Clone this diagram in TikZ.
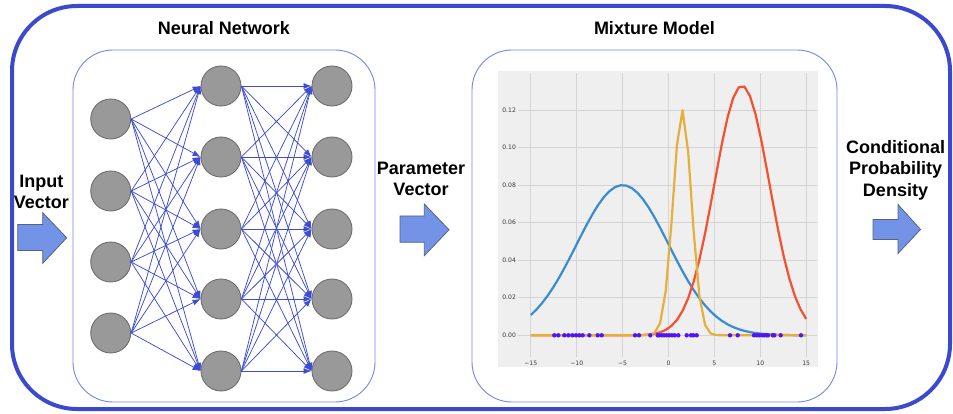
\documentclass[tikz,border=0pt]{standalone}
\usepackage{fontspec}
\setmainfont{Liberation Sans}
\newfontfamily\tickfont{DejaVu Sans}
\usetikzlibrary{arrows.meta}

\definecolor{framecol}{HTML}{3B49CF}
\definecolor{panelcol}{HTML}{7088E8}
\definecolor{edgecol}{HTML}{3D4CD3}
\definecolor{nodefill}{HTML}{999999}
\definecolor{nodeline}{HTML}{6E6E6E}
\definecolor{arrowfill}{HTML}{7393E6}
\definecolor{arrowline}{HTML}{55637F}
\definecolor{plotbg}{HTML}{EFEFEF}
\definecolor{gridcol}{HTML}{D4D4D4}
\definecolor{ticktext}{HTML}{3A3A3A}
\definecolor{cblue}{HTML}{3A8CD2}
\definecolor{cred}{HTML}{F5502F}
\definecolor{cyellow}{HTML}{E6AF3A}
\definecolor{dotcol}{HTML}{5014F5}

\tikzset{
  neuron/.style={circle, draw=nodeline, line width=0.9pt, fill=nodefill,
                 minimum size=40pt, inner sep=0pt},
  link/.style={draw=edgecol, line width=0.75pt, -{Latex[length=8pt,width=6pt]}},
  panel/.style={draw=panelcol, line width=0.9pt, rounded corners=40pt},
  title/.style={font=\bfseries\fontsize{18}{21.5}\selectfont, align=center,
                inner sep=0pt, text=black},
  blockarrow/.style={fill=arrowfill, draw=arrowline, line width=0.8pt, line join=miter},
  curve/.style={line width=2.2pt, line join=round},
  gridline/.style={draw=gridcol, line width=0.9pt},
  ticklbl/.style={font=\tickfont\fontsize{6.1}{7}\selectfont, text=ticktext, inner sep=0pt},
  sample/.style={fill=dotcol},
}

\begin{document}
\begin{tikzpicture}[x=1pt, y=-1pt]
\useasboundingbox (0,0) rectangle (953,414);

% outer frame
\draw[framecol, line width=4pt, rounded corners=65pt] (12,6) rectangle (950,409);

% the two panels
\draw[panel] (73,50) rectangle (375,402);
\draw[panel] (472,50) rectangle (837,402);

\node[title] (nntitle) at (224,28) {Neural Network};
\node[title] (mmtitle) at (654.5,28) {Mixture Model};

% network layers
\foreach \i/\y in {1/119,2/191,3/262,4/333}
  \node[neuron] (in\i) at (110.7,\y) {};
\foreach \i/\y in {1/86,2/157,3/229,4/299,5/371} {
  \node[neuron] (h\i) at (221,\y) {};
  \node[neuron] (o\i) at (332,\y) {};
}
\foreach \a in {1,...,4}
  \foreach \b in {1,...,5}
    \draw[link] (in\a.east) -- (h\b.west);
\foreach \a in {1,...,5}
  \foreach \b in {1,...,5}
    \draw[link] (h\a.east) -- (o\b.west);

% side labels
\node[title] (inlbl) at (41.3,192) {Input\\Vector};
\node[title] (parlbl) at (421,179) {Parameter\\Vector};
\node[title] (cpdlbl) at (895.5,170) {Conditional\\Probability\\Density};

% block arrows
\draw[blockarrow] (17.7,224.5) -- (42.7,224.5) -- (42.7,212.7) -- (66.7,237.8)
  -- (42.7,263.3) -- (42.7,250.5) -- (17.7,250.5) -- cycle;
\draw[blockarrow] (400,216) -- (424.3,216) -- (424.3,204) -- (449,229.8)
  -- (424.3,255.7) -- (424.3,242.3) -- (400,242.3) -- cycle;
\draw[blockarrow] (873,219.5) -- (898,219.5) -- (898,204.5) -- (920.5,229.5)
  -- (898,253.5) -- (898,239.5) -- (873,239.5) -- cycle;

% mixture plot
\fill[plotbg] (498,71) rectangle (818,367);
\begin{scope}[shift={(668.5,335.3)}, x=9.18pt, y=1877pt]
  \foreach \v in {-15,-10,-5,0,5,10,15}
    \draw[gridline] (\v,-0.0116) -- (\v,0.1397);
  \foreach \h in {0,0.02,0.04,0.06,0.08,0.10,0.12}
    \draw[gridline] (-16.4,\h) -- (16.2,\h);
  \foreach \h/\t in {0/0.00,0.02/0.02,0.04/0.04,0.06/0.06,0.08/0.08,0.10/0.10,0.12/0.12}
    \node[ticklbl, anchor=east] (ytick\t) at (-16.6,\h) {\t};
  \foreach \v/\t in {-15/−15,-10/−10,-5/−5,0/0,5/5,10/10,15/15}
    \node[ticklbl] (xtick\v) at (\v,-0.0148) {\t};

  \draw[cblue, curve] plot[domain=-15:15, samples=50]
    (\x, {0.08*exp(max(-((\x+5)*(\x+5))/50,-11))});
  \draw[cred, curve] plot[domain=-15:15, samples=50]
    (\x, {0.133*exp(max(-((\x-8)*(\x-8))/18,-11))});
  \draw[cyellow, curve] plot[domain=-15:15, samples=50]
    (\x, {0.12*exp(max(-((\x-1.5)*(\x-1.5))/2,-11))});
\end{scope}

% observed samples on the axis
\foreach \px in {554.3,558.3,564.3,568.3,572.3,576,579.3,582.7,589.3,597.7,601.7,
                 635,639,650.3,657.7,659,661.7,664,666.7,669.3,672,674.7,678.3,
                 686.7,691,693.3,696.7,730,737.7,754,756.7,759.3,762,764.3,766.7,
                 768,772.7,774.3,780.7,801}
  \fill[sample] (\px,335.3) circle (2.2pt);
\end{tikzpicture}
\end{document}
